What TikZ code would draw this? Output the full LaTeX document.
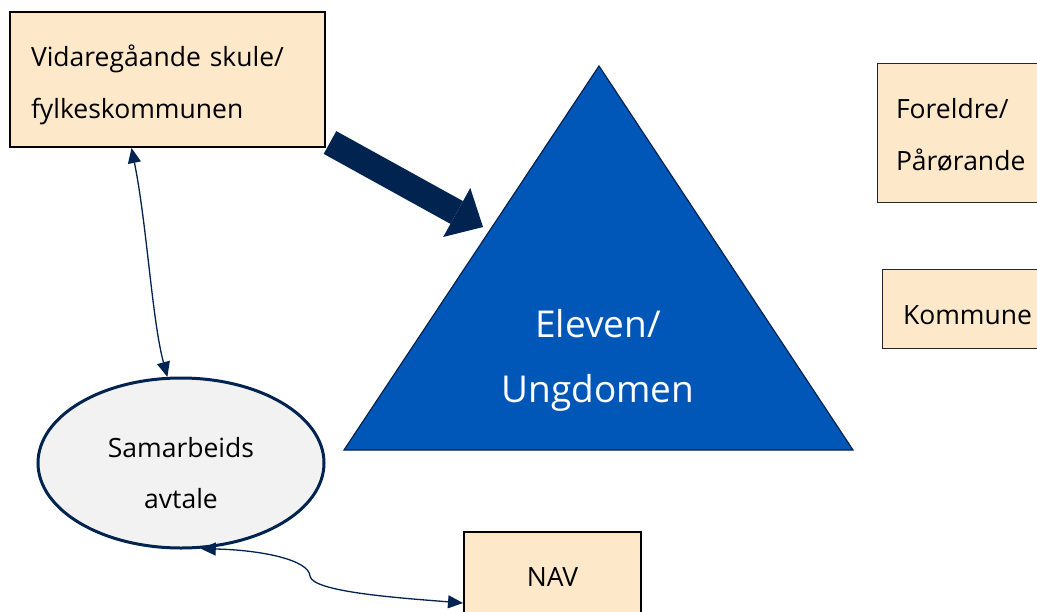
\documentclass[tikz,border=0pt]{standalone}
\usepackage{fontspec}
\setmainfont{Open Sans}
\usetikzlibrary{arrows.meta, positioning, shapes.geometric}
\definecolor{peach}{RGB}{253,232,201}
\definecolor{navy}{RGB}{0,35,80}
\definecolor{eleblue}{RGB}{0,87,184}
\definecolor{ovalgrey}{RGB}{242,242,242}
% raise the first line of a node's text box so the text sits lower
\newcommand{\toprule}[1]{\rule{0pt}{#1}}

\begin{document}
\begin{tikzpicture}[x=1pt, y=-1pt,
    box/.style={draw=black, fill=peach, line width=2pt, inner sep=0pt,
      font=\fontsize{26.5pt}{52pt}\selectfont},
    thinbox/.style={box, draw=black!85, line width=1pt},
    link/.style={navy, line width=1.3pt,
      {Triangle[length=15pt,width=13pt]}-{Triangle[length=15pt,width=13pt]}}]
  \useasboundingbox (0,0) rectangle (1037,611);

  % Boxes round the pupil
  \node[box, minimum width=315pt, minimum height=135pt, text width=273pt, align=left] (vgs) at (167.5,79.5) {\toprule{32pt}Vidaregåande skule/\\fylkeskommunen};
  \node[thinbox, minimum width=168pt, minimum height=139pt, text width=130pt, align=left] (foreldre) at (961,132.5) {\toprule{24pt}Foreldre/\\Pårørande};
  \node[thinbox, minimum width=163pt, minimum height=79pt, text width=121pt, align=left] (kommune) at (963.5,308.5) {\toprule{32pt}Kommune};
  \node[box, minimum width=177pt, minimum height=90pt] (nav) at (552.5,577) {NAV};

  % The pupil
  \coordinate (apex) at (599,66);
  \coordinate (baseR) at (853,450);
  \coordinate (baseL) at (344,450);
  \draw[draw=navy, fill=eleblue, line width=1.2pt] (apex) -- (baseR) -- (baseL) -- cycle;
  \node[text=white, align=center, font=\fontsize{37pt}{65pt}\selectfont] (elev) at (598,360) {Eleven/\\Ungdomen};

  % Agreement
  \node[ellipse, draw=navy, fill=ovalgrey, line width=3pt, minimum width=286pt, minimum height=170pt, inner sep=0pt, align=center,
    font=\fontsize{26.5pt}{51pt}\selectfont] (sam) at (181,463) {\toprule{40pt}Samarbeids\\avtale};

  % Big arrow into the triangle
  \coordinate (hit) at (483,227);
  \draw[navy, line width=26pt, -{Triangle[length=30pt,width=56pt,line width=0pt]}] ([shift={(4,-5.5)}]vgs.south east) -- (hit);

  % Thin links
  \draw[link] ([xshift=-36pt]vgs.south) .. controls (147,225) and (152,320) .. (sam.99);
  \coordinate (kink) at (310,576);
  \draw[link] (sam.-77) .. controls (262,550) and (309,560) .. (kink)
    .. controls (312,592) and (400,598) .. ([yshift=20pt]nav.south west);
\end{tikzpicture}
\end{document}
